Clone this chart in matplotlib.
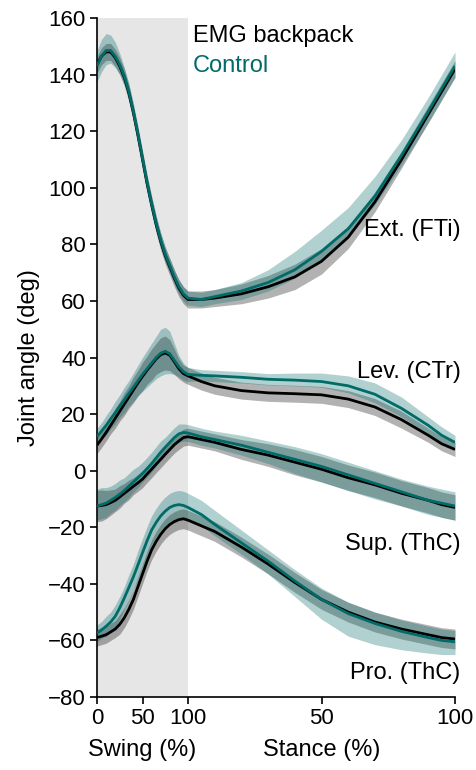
import numpy as np
import matplotlib
matplotlib.use('Agg')
import matplotlib.pyplot as plt

plt.rcParams['font.family'] = ['Liberation Sans', 'DejaVu Sans']

# Sample positions (percent of each phase)
swing_pct = [0, 5, 10, 15, 20, 25, 30, 35, 40, 45, 50, 55, 60, 65, 70, 75, 80, 85, 90, 95, 100]
stance_pct = [5, 10, 20, 30, 40, 50, 60, 70, 80, 90, 95, 100]

# Stance is drawn wider than swing on the shared axis
STANCE_SCALE = 267 / 91

# Ext. (FTi)  -- 21 swing values, then 12 stance values
ext_emg = [143.5, 146.5, 148, 148, 146, 143, 139, 133.5, 126.5, 118.5, 110, 101.5, 94, 87, 81, 76, 72, 68, 64.5, 62, 60.5,
           60.5, 61, 62.5, 65, 68.5, 74, 82.5, 95, 110, 126, 134, 142]
ext_emg_sd = [3] * 21 + [3, 3, 3.5, 4, 4.5, 4.5, 4, 3.5, 3, 3, 3, 3]
ext_ctrl = [143, 146.5, 148.5, 148.5, 146.5, 143.5, 139.5, 134, 127, 119, 110.5, 102, 94.5, 87.5, 81.5, 76.5, 72.5, 68.5, 65, 62.5, 61,
            60.5, 61.5, 63.5, 66.5, 71, 77.5, 85.5, 97, 111.5, 127, 135, 143]
ext_ctrl_up = [5.5, 6, 6, 5.5, 5, 4, 3, 3] + [2.5] * 13 + [2.5, 2.5, 3, 4.5, 6.5, 7.5, 7.5, 7, 5.5, 5, 5, 5]
ext_ctrl_dn = [5.5, 5.5, 5, 4.5, 4, 3.5, 3] + [2.5] * 14 + [2.5, 2.5, 3, 3, 3, 3, 3, 3, 3.5, 4, 4, 4]

# Lev. (CTr)
lev_emg = [9, 11.2, 13.5, 16, 18.5, 21, 23.5, 26, 28.5, 31, 33.3, 35.5, 37.5, 39.5, 41, 41.6, 40.8, 38.5, 36, 34.3, 33.5,
           31.5, 30, 28.3, 27.5, 27.2, 26.8, 25.3, 22.5, 18, 12.5, 9.5, 7.5]
lev_emg_sd = [3, 3, 3, 3, 3.5, 3.5, 4, 4, 4.5, 4.5, 5, 5, 5.5, 5.5, 6, 6, 5.5, 4.5, 3.5, 3, 3,
              3, 3, 3, 3, 3, 3, 3, 3, 3, 2.5, 2.5, 2.5]
lev_ctrl = [12, 14, 16, 18.3, 20.5, 22.8, 25, 27.3, 29.5, 31.8, 34, 36, 38, 40, 41.5, 42.2, 41.3, 39, 36.7, 35, 34,
            33.7, 33.5, 33, 32.3, 32, 31.5, 30, 27, 22, 16, 12.5, 10]
lev_ctrl_up = [3, 3, 3.5, 3.5, 4, 4, 4.5, 4.5, 5, 5.5, 6, 6.5, 7, 7.5, 8.5, 8.5, 8, 6, 4, 3, 2.5,
               2, 2, 2, 2, 2.5, 3, 3.5, 4, 4, 3, 3, 2.5]
lev_ctrl_dn = [3, 3, 3.5, 3.5, 4, 4, 4.5, 4.5, 5, 5.5, 6, 6.5, 7, 7.5, 8, 8, 7, 5, 3.5, 3, 2.5,
               2, 2, 2, 2, 2, 2, 2.5, 3, 3, 3, 2.5, 2.5]

# Sup. (ThC)
sup_emg = [-12.5, -12.3, -12, -11.3, -10.5, -9.3, -8, -6.8, -5.5, -4.3, -3, -1.2, 0.5, 2.3, 4, 5.8, 7.5, 9.2, 10.5, 11.7, 12,
           11, 10, 7.5, 5.5, 3, 0.5, -2.5, -5, -8, -10.5, -12, -13]
sup_emg_sd = [5.5, 5.5, 5, 4.5, 4, 4, 3.5, 3.5] + [3] * 13 + [3, 3, 3.5, 4, 4.5, 4.5, 4.5, 4.5, 4.5, 4.5, 4.5, 4.5]
sup_ctrl = [-12.5, -12, -11.5, -10.5, -9.5, -8.3, -7, -5.5, -4, -2.5, -1, 0.7, 2.5, 4.5, 6.5, 8.3, 10, 11.7, 13, 13.5, 13.3,
            12, 11, 9, 6.5, 4, 1.5, -1.5, -4.5, -7.5, -10.5, -11.5, -12.5]
sup_ctrl_up = [6, 6, 5.5, 5, 5, 5, 4.5, 4.5, 4.5, 4, 4, 4, 4, 4, 4, 3.5, 3.5, 3.5, 3.5, 3, 3,
               3, 3, 3.5, 4, 4.5, 4.5, 4.5, 4.5, 4.5, 5, 5, 5]
sup_ctrl_dn = [5, 5, 5, 4.5, 4.5, 4, 4, 4, 3.5, 3.5] + [3] * 11 + [3, 3, 3.5, 4, 5, 5.5, 5.5, 5.5, 5, 5, 5, 5]

# Pro. (ThC)
pro_emg = [-59, -58.5, -58, -57, -56, -54.3, -52, -49, -45.5, -41, -36.5, -32, -28, -25, -22.5, -20.5, -19, -18, -17.3, -17, -17.5,
           -19.5, -21.5, -27, -33, -39.5, -45.5, -50, -53.5, -56, -58, -59, -59.5]
pro_emg_sd = [3] * 5 + [3.5] * 28
pro_ctrl = [-57.5, -56.3, -55, -53.5, -51.5, -48.5, -45, -41.3, -37.5, -33.3, -29, -24.8, -21, -18.3, -16, -14.3, -13, -12.3, -12, -12.3, -13,
            -15.5, -19, -25.5, -32, -39, -45.5, -50.5, -54, -56.8, -59, -60, -60.5]
pro_ctrl_up = [3, 3, 3.5, 3.5, 4, 4, 4, 4.5, 4.5] + [5] * 12 + [5, 5, 4.5, 4, 4, 4, 4, 4, 4, 4, 4, 4]
pro_ctrl_dn = [3, 3, 3.5, 3.5, 4, 4, 4, 4.5, 4.5] + [5] * 9 + [4.5, 4.5, 4] + [4, 4, 4, 4.5, 5.5, 7, 8, 7.5, 6.5, 5.5, 5, 4.5]

joint_labels = ['Ext. (FTi)', 'Lev. (CTr)', 'Sup. (ThC)', 'Pro. (ThC)']
label_y = [85, 35, -26, -71.5]

GREY = '#000000'
TEAL = '#006b68'

x = np.concatenate([swing_pct, 100 + np.array(stance_pct) * STANCE_SCALE])
x_end = 100 + 100 * STANCE_SCALE

fig = plt.figure(figsize=(4.76, 7.70), dpi=100)
ax = fig.add_axes([97 / 476, 73 / 770, 358 / 476, 679 / 770])

ax.axvspan(0, 100, color='#e6e6e6', lw=0, zorder=0)

joints = [
    (ext_emg, ext_emg_sd, ext_ctrl, ext_ctrl_up, ext_ctrl_dn),
    (lev_emg, lev_emg_sd, lev_ctrl, lev_ctrl_up, lev_ctrl_dn),
    (sup_emg, sup_emg_sd, sup_ctrl, sup_ctrl_up, sup_ctrl_dn),
    (pro_emg, pro_emg_sd, pro_ctrl, pro_ctrl_up, pro_ctrl_dn),
]

for emg, emg_sd, ctrl, up, dn in joints:
    emg = np.array(emg)
    emg_sd = np.array(emg_sd)
    ctrl = np.array(ctrl)
    ax.fill_between(x, emg - emg_sd, emg + emg_sd, color=GREY, alpha=0.3, lw=0, zorder=1)
    ax.fill_between(x, ctrl - np.array(dn), ctrl + np.array(up), color=TEAL, alpha=0.31, lw=0, zorder=2)
    ax.plot(x, emg, color='black', lw=2.0, zorder=3, solid_capstyle='butt', solid_joinstyle='round')
    ax.plot(x, ctrl, color=TEAL, lw=2.0, zorder=4, solid_capstyle='butt', solid_joinstyle='round')

for lab, ly in zip(joint_labels, label_y):
    ax.text(x_end + 6, ly, lab, ha='right', va='center', fontsize=17)

ax.text(105, 153.5, 'EMG backpack', color='black', fontsize=17, va='center', ha='left')
ax.text(105, 143, 'Control', color=TEAL, fontsize=17, va='center', ha='left')

ax.set_xlim(0, x_end)
ax.set_ylim(-80, 160)
ax.set_yticks(np.arange(-80, 161, 20))
ax.set_xticks([0, 50, 100, 100 + 50 * STANCE_SCALE, x_end])
ax.set_xticklabels(['0', '50', '100', '50', '100'])
ax.tick_params(labelsize=16, length=5, width=1.2, colors='black', pad=3)
ax.spines['top'].set_visible(False)
ax.spines['right'].set_visible(False)
ax.spines['left'].set_linewidth(1.2)
ax.spines['bottom'].set_linewidth(1.2)
ax.set_ylabel('Joint angle (deg)', fontsize=17, labelpad=6)

ax.text(50, -0.078, 'Swing (%)', transform=ax.get_xaxis_transform(), ha='center', va='center', fontsize=17)
ax.text(100 + 50 * STANCE_SCALE, -0.078, 'Stance (%)', transform=ax.get_xaxis_transform(), ha='center', va='center', fontsize=17)

fig.savefig('out.png', dpi=100)
